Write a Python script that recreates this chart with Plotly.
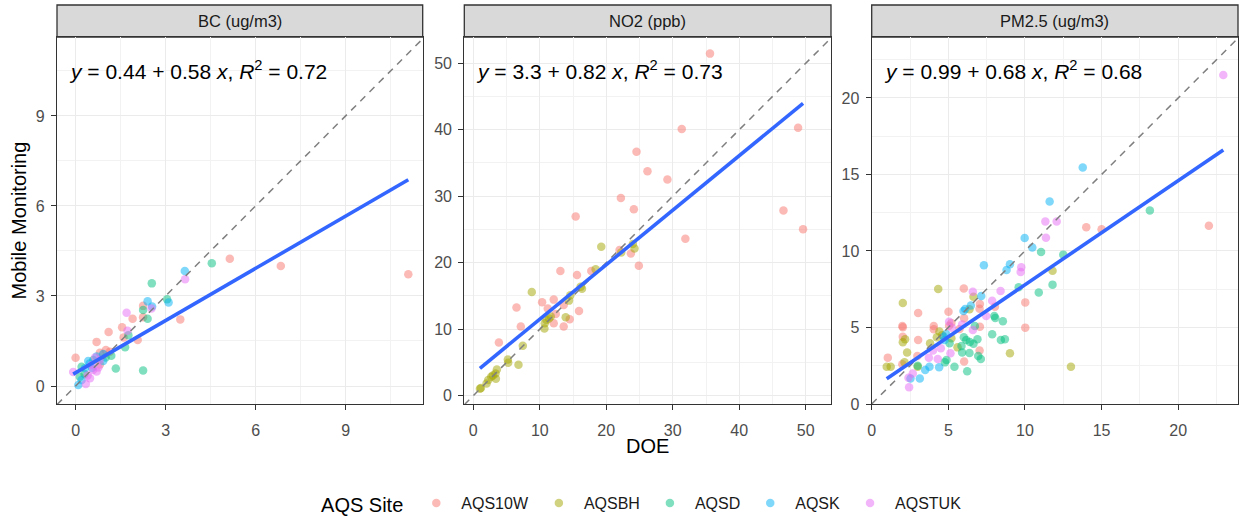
import plotly.graph_objects as go

# ---------------- data ----------------
sites = ["AQS10W", "AQSBH", "AQSD", "AQSK", "AQSTUK"]
site_colors = ["#F8766D", "#A3A500", "#00BF7D", "#00B0F6", "#E76BF3"]
panel_titles = ["BC (ug/m3)", "NO2 (ppb)", "PM2.5 (ug/m3)"]

# BC (ug/m3): DOE (x) vs Mobile Monitoring (y)
bc_AQS10W_x = [11.09, 6.84, 5.14, 3.49, 2.25, 1.9, 2.25, 1.1, 1.55, 1.6, 2.07, 0.7, 0.0, 1.14, 1.01, 0.81, 0.81, 0.93]
bc_AQS10W_y = [3.72, 4.0, 4.24, 2.22, 2.67, 2.24, 2.29, 1.8, 1.96, 1.62, 1.53, 1.47, 0.94, 1.14, 1.2, 1.11, 0.72, 1.05]
bc_AQSD_x = [4.54, 2.54, 3.05, 2.25, 2.4, 1.76, 1.65, 1.34, 2.25, 1.19, 0.2, 0.59, 0.14, 1.0, 0.3]
bc_AQSD_y = [4.09, 3.42, 2.89, 2.53, 2.24, 1.69, 1.29, 0.58, 0.52, 1.01, 0.64, 0.87, 0.31, 0.95, 0.4]
bc_AQSK_x = [3.64, 3.1, 2.4, 2.55, 0.92, 0.42, 0.31, 0.09, 0.7, 0.47, 0.92, 0.2, 0.55]
bc_AQSK_y = [3.83, 2.78, 2.82, 2.65, 1.07, 0.83, 0.59, 0.03, 0.98, 0.75, 0.83, 0.2, 0.6]
bc_AQSTUK_x = [3.65, 2.53, 1.7, 1.73, 0.65, 0.53, 0.76, -0.08, 0.34, 0.48, 0.7, 0.8, 0.58, 0.4]
bc_AQSTUK_y = [3.56, 2.58, 2.44, 1.84, 0.95, 0.7, 0.62, 0.47, 0.07, 0.26, 0.48, 0.87, 0.53, 0.35]

# NO2 (ppb)
no2_AQS10W_x = [35.6, 31.35, 48.85, 24.55, 26.2, 29.2, 22.2, 24.15, 15.4, 46.65, 49.6, 31.9, 22.0, 23.7, 24.9,
                13.1, 17.75, 15.6, 12.1, 10.35, 13.6, 11.2, 6.5, 15.9, 12.4, 12.1, 14.5, 7.15, 13.6, 3.85]
no2_AQS10W_y = [51.45, 40.1, 40.3, 36.7, 33.75, 32.5, 29.75, 28.05, 26.95, 27.85, 25.05, 23.6, 21.9, 21.4, 19.55,
                18.75, 18.75, 18.15, 14.45, 14.05, 13.65, 13.1, 13.25, 12.75, 12.3, 10.9, 11.5, 10.4, 10.4, 8.0]
no2_AQSBH_x = [19.25, 24.25, 22.25, 18.4, 16.15, 16.35, 8.8, 14.6, 14.4, 11.65, 11.0, 10.75, 13.9, 10.7, 7.45,
               5.2, 5.25, 6.8, 3.55, 3.35, 3.4, 2.7, 2.25, 2.0, 1.15, 1.0, 2.95, 24.0, 11.4]
no2_AQSBH_y = [22.4, 22.15, 21.55, 19.0, 16.4, 16.1, 15.6, 15.1, 14.3, 11.9, 11.4, 10.9, 11.8, 10.1, 7.5,
               5.45, 4.95, 4.65, 3.95, 3.35, 2.55, 2.85, 2.35, 1.85, 1.15, 1.05, 3.05, 22.8, 11.6]

# PM2.5 (ug/m3)
pm_AQS10W_x = [14.0, 15.0, 22.0, 6.01, 10.02, 7.06, 7.04, 5.01, 3.03, 8.04, 10.02, 2.03, 2.0, 4.05, 4.05, 5.05,
               6.03, 5.73, 7.06, 2.03, 3.03, 7.04, 1.05, 2.98, 6.03, 5.2, 2.0]
pm_AQS10W_y = [11.55, 11.42, 11.64, 7.54, 6.64, 6.54, 6.23, 6.03, 5.95, 6.36, 4.99, 5.01, 5.1, 5.1, 4.88, 5.12,
               5.6, 4.9, 5.05, 4.4, 4.18, 3.49, 3.03, 3.14, 2.77, 5.3, 2.6]
pm_AQSBH_x = [4.34, 6.64, 2.03, 6.38, 11.8, 4.42, 4.25, 2.18, 2.03, 3.81, 9.02, 5.6, 2.31, 0.98, 1.24, 2.14, 3.0,
              13.0, 4.6, 5.2]
pm_AQSBH_y = [7.52, 7.01, 6.6, 6.19, 8.71, 4.73, 4.36, 4.23, 4.03, 3.97, 3.31, 3.7, 3.36, 2.44, 2.44, 2.72, 2.44,
              2.44, 4.5, 4.3]
pm_AQSD_x = [18.15, 11.05, 12.5, 9.59, 11.8, 10.9, 8.0, 8.06, 8.56, 6.73, 5.08, 6.01, 6.17, 6.9, 6.64, 6.4, 7.86,
             8.43, 8.69, 5.86, 6.38, 6.95, 7.12, 5.9, 4.88, 4.77, 5.4, 6.23, 3.0]
pm_AQSD_y = [12.64, 9.93, 9.76, 7.63, 7.8, 7.28, 5.75, 5.62, 5.4, 5.1, 3.97, 4.36, 4.18, 4.23, 3.94, 4.05, 4.55,
             4.18, 4.23, 3.79, 3.33, 3.14, 2.94, 3.36, 2.88, 2.72, 2.44, 2.14, 2.5]
pm_AQSK_x = [13.77, 11.61, 9.98, 10.48, 7.32, 9.02, 8.8, 7.15, 6.47, 5.99, 4.86, 4.75, 3.77, 3.49, 4.4, 2.53, 3.14,
             6.1, 4.7]
pm_AQSK_y = [15.46, 13.23, 10.85, 10.22, 9.06, 9.13, 8.76, 7.06, 6.43, 6.08, 4.58, 4.18, 2.44, 2.22, 2.4, 1.66, 1.66,
             6.2, 4.4]
pm_AQSTUK_x = [22.94, 11.33, 12.07, 11.37, 9.76, 9.72, 8.41, 6.6, 7.86, 7.47, 5.05, 5.23, 6.6, 5.14, 4.51, 4.31,
               3.73, 2.4, 2.44, 2.68, 5.9, 4.0]
pm_AQSTUK_y = [21.5, 11.92, 11.92, 10.87, 8.93, 8.63, 7.39, 7.34, 6.75, 5.75, 5.38, 4.99, 4.84, 3.31, 3.64, 2.94,
               3.03, 1.72, 1.09, 2.0, 5.2, 3.5]

# regression results shown on the chart (intercept, slope, R2 label)
reg_intercept = [0.44, 3.3, 0.99]
reg_slope = [0.58, 0.82, 0.68]
reg_label_int = ["0.44", "3.3", "0.99"]
reg_label_slope = ["0.58", "0.82", "0.68"]
reg_label_r2 = ["0.72", "0.73", "0.68"]

panel_data = [
    {"AQS10W": (bc_AQS10W_x, bc_AQS10W_y), "AQSD": (bc_AQSD_x, bc_AQSD_y),
     "AQSK": (bc_AQSK_x, bc_AQSK_y), "AQSTUK": (bc_AQSTUK_x, bc_AQSTUK_y)},
    {"AQS10W": (no2_AQS10W_x, no2_AQS10W_y), "AQSBH": (no2_AQSBH_x, no2_AQSBH_y)},
    {"AQS10W": (pm_AQS10W_x, pm_AQS10W_y), "AQSBH": (pm_AQSBH_x, pm_AQSBH_y), "AQSD": (pm_AQSD_x, pm_AQSD_y),
     "AQSK": (pm_AQSK_x, pm_AQSK_y), "AQSTUK": (pm_AQSTUK_x, pm_AQSTUK_y)},
]

# ---------------- layout constants ----------------
W, H = 1239, 516
FONT = "Liberation Sans, Arial, Helvetica, sans-serif"
panel_px = [(57, 422.7), (464.3, 831), (871.7, 1238)]
top_px, bot_px = 37, 404
strip_top_px = 5
x_ranges = [(-0.62, 11.57), (-1.35, 53.8), (0.0, 23.9)]
y_ranges = [(-0.6, 11.63), (-1.25, 53.95), (0.0, 23.98)]
dticks = [3, 10, 5]

fig = go.Figure()
shown = set()
for p in range(3):
    xa = "x" if p == 0 else f"x{p+1}"
    ya = "y" if p == 0 else f"y{p+1}"
    # points
    for s, col in zip(sites, site_colors):
        if s not in panel_data[p]:
            continue
        xs, ys = panel_data[p][s]
        fig.add_trace(go.Scatter(
            x=xs, y=ys, mode="markers", name=s, legendgroup=s,
            legendrank=sites.index(s) + 1,
            showlegend=s not in shown,
            marker=dict(color=col, size=8.5, opacity=0.5, line=dict(width=0)),
            xaxis=xa, yaxis=ya, hoverinfo="skip"))
        shown.add(s)
    # 1:1 dashed line
    lo = min(x_ranges[p][0], y_ranges[p][0])
    hi = max(x_ranges[p][1], y_ranges[p][1])
    fig.add_trace(go.Scatter(x=[lo, hi], y=[lo, hi], mode="lines", showlegend=False,
                             line=dict(color="#7F7F7F", width=1.5, dash="7px,6px"),
                             xaxis=xa, yaxis=ya, hoverinfo="skip"))
    # regression line
    allx = [v for s in panel_data[p] for v in panel_data[p][s][0]]
    x0, x1 = min(allx), max(allx)
    fig.add_trace(go.Scatter(
        x=[x0, x1], y=[reg_intercept[p] + reg_slope[p] * x0, reg_intercept[p] + reg_slope[p] * x1],
        mode="lines", showlegend=False, line=dict(color="#3366FF", width=3.6),
        xaxis=xa, yaxis=ya, hoverinfo="skip"))

layout = dict(
    width=W, height=H, margin=dict(l=0, r=0, t=0, b=0, autoexpand=False),
    paper_bgcolor="white", plot_bgcolor="white",
    font=dict(family=FONT, color="#4D4D4D"),
    showlegend=True,
    legend=dict(orientation="h", xref="container", yref="container",
                x=0.519, xanchor="center", y=(H - 504) / H, yanchor="middle",
                itemwidth=40, font=dict(size=16, color="#1A1A1A", family=FONT),
                title=dict(text="AQS Site", side="left", font=dict(size=20, color="#000000", family=FONT)),
                bgcolor="rgba(0,0,0,0)", tracegroupgap=0),
)
shapes = []
annotations = []
for p in range(3):
    sfx = "" if p == 0 else str(p + 1)
    l, r = panel_px[p]
    axis_common = dict(showline=True, mirror=True, linecolor="#333333", linewidth=1.3,
                       ticks="outside", ticklen=5, tickwidth=1.2, tickcolor="#333333",
                       showgrid=True, gridcolor="#EBEBEB", gridwidth=1.4, zeroline=False,
                       automargin=False,
                       tick0=0, dtick=dticks[p], tickfont=dict(size=16, color="#4D4D4D", family=FONT),
                       minor=dict(tick0=0, dtick=dticks[p] / 2, showgrid=True, gridcolor="#F2F2F2",
                                  gridwidth=0.8))
    layout["xaxis" + sfx] = dict(axis_common, domain=[l / W, r / W], range=list(x_ranges[p]),
                                 anchor="y" + sfx, ticklabelstandoff=7)
    layout["yaxis" + sfx] = dict(axis_common, domain=[1 - bot_px / H, 1 - top_px / H],
                                 range=list(y_ranges[p]), anchor="x" + sfx, ticklabelstandoff=3)
    # strip
    shapes.append(dict(type="rect", xref="paper", yref="paper", x0=l / W, x1=r / W,
                       y0=1 - top_px / H, y1=1 - strip_top_px / H, fillcolor="#D9D9D9",
                       line=dict(color="#333333", width=1.3), layer="below"))
    annotations.append(dict(text=panel_titles[p], xref="paper", yref="paper", x=(l + r) / 2 / W,
                            y=1 - (top_px + strip_top_px) / 2 / H, showarrow=False,
                            xanchor="center", yanchor="middle",
                            font=dict(size=16.5, color="#1A1A1A", family=FONT)))
    # equation
    eq = (f"<i>y</i> = {reg_label_int[p]} + {reg_label_slope[p]} <i>x</i>, "
          f"<i>R</i><sup>2</sup> = {reg_label_r2[p]}")
    annotations.append(dict(text=eq, xref=f"x{sfx} domain", yref=f"y{sfx} domain",
                            x=0.027, y=(bot_px - 70) / (bot_px - top_px), showarrow=False,
                            xanchor="left", yanchor="middle",
                            font=dict(size=21, color="#000000", family=FONT)))

annotations.append(dict(text="DOE", xref="paper", yref="paper", x=647 / W, y=1 - 446 / H,
                        showarrow=False, xanchor="center", yanchor="middle",
                        font=dict(size=20, color="#000000", family=FONT)))
annotations.append(dict(text="Mobile Monitoring", xref="paper", yref="paper", x=18 / W,
                        y=1 - 220.5 / H, showarrow=False, xanchor="center", yanchor="middle",
                        textangle=-90, font=dict(size=20, color="#000000", family=FONT)))
layout["shapes"] = shapes
layout["annotations"] = annotations
fig.update_layout(**layout)
fig.write_html("out.html")
